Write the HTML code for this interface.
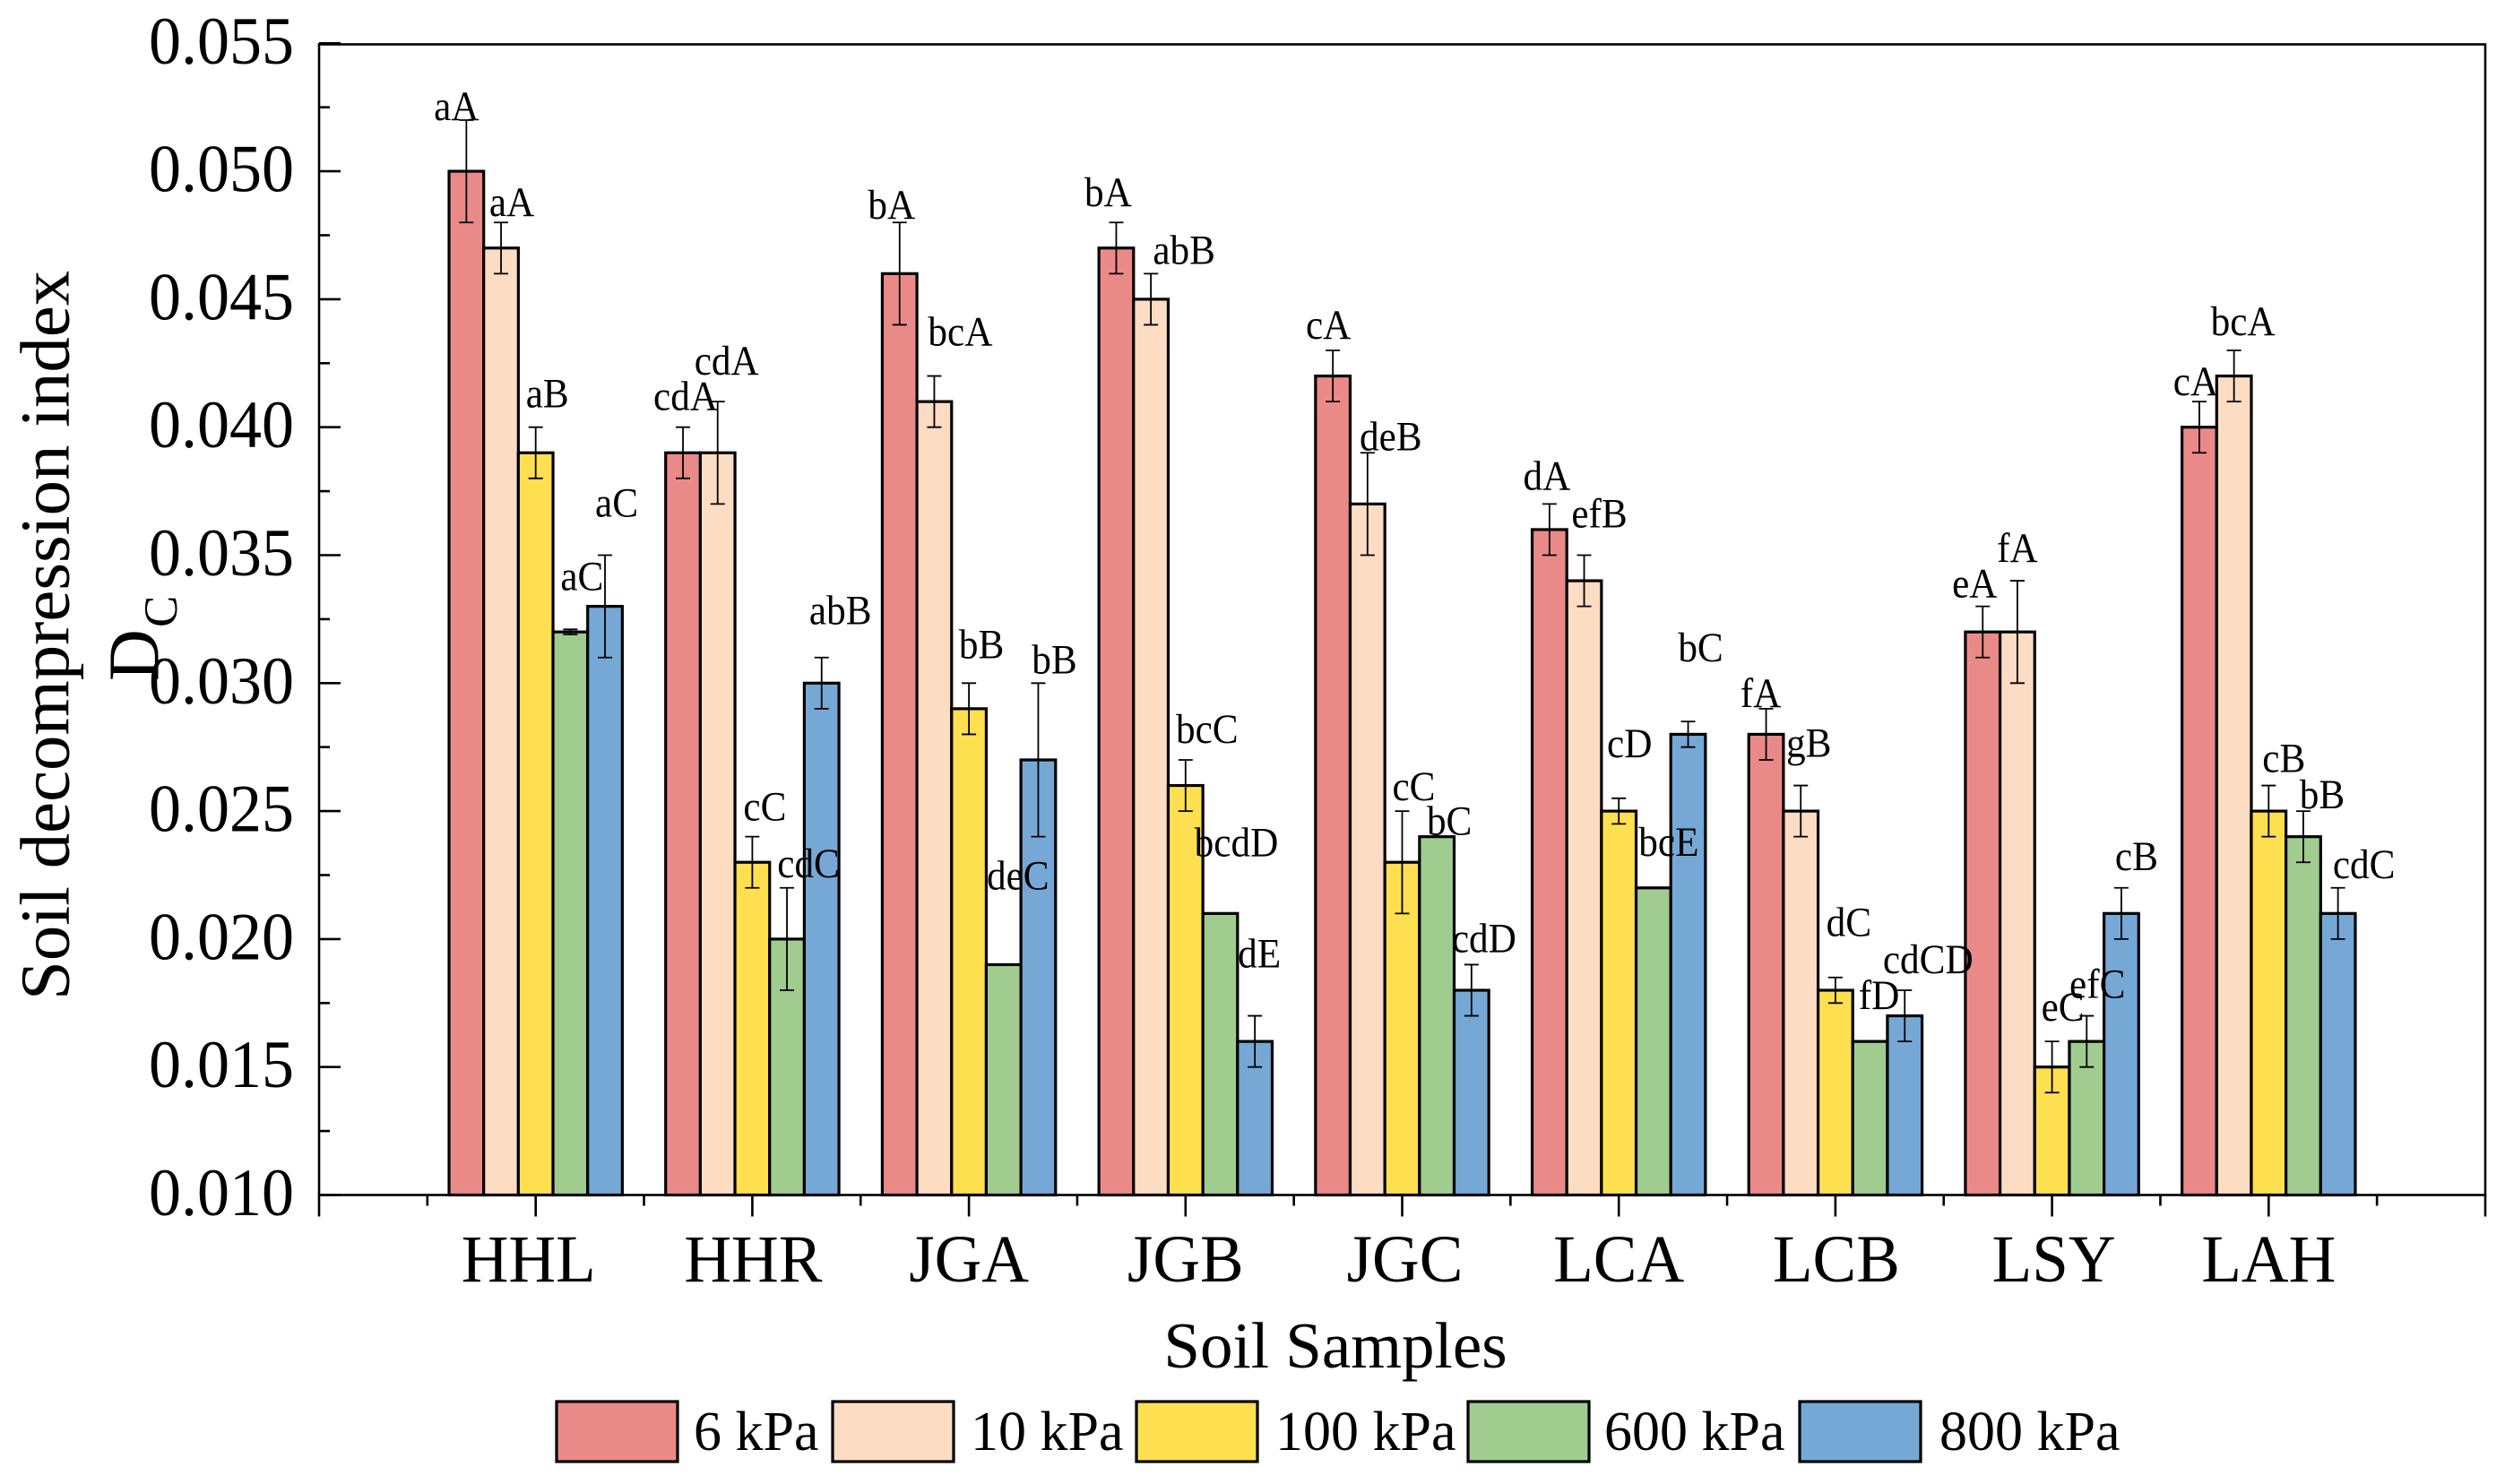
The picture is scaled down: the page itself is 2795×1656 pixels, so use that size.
<!DOCTYPE html>
<html lang="en">
<head>
<meta charset="utf-8">
<title>Soil decompression index by soil sample</title>
<style>
  html, body { margin: 0; padding: 0; background: #fff; }
  svg { display: block; font-family: "Liberation Serif", serif; fill: #000; }
</style>
</head>
<body>
<svg id="chart" width="2795" height="1656" viewBox="0 0 2795 1656" xmlns="http://www.w3.org/2000/svg">
  <rect x="0" y="0" width="2795" height="1656" fill="#fff"/>
  <g id="bars"></g>
  <g id="errors"></g>
  <rect x="356" y="49.5" width="2417" height="1284" fill="none" stroke="#000" stroke-width="2.6"/>
  <g id="ticks"></g>
  <g id="labels"></g>

  <text transform="translate(76.5 1116) rotate(-90)" font-size="78.8">Soil decompression index</text>
  <text transform="translate(176.5 760) rotate(-90)" font-size="80">D</text>
  <text transform="translate(197 700) rotate(-90)" font-size="53">C</text>
  <text x="1490" y="1526" font-size="73" text-anchor="middle">Soil Samples</text>

  <g>
    <g>
      <rect x="621" y="1564" width="135" height="67" fill="#EA8A88" stroke="#000" stroke-width="3.2"/>
      <text x="774" y="1618" font-size="62">6 kPa</text>
    </g>
    <g>
      <rect x="929" y="1564" width="135" height="67" fill="#FDDCC4" stroke="#000" stroke-width="3.2"/>
      <text x="1083" y="1618" font-size="62">10 kPa</text>
    </g>
    <g>
      <rect x="1268" y="1564" width="135" height="67" fill="#FEDF50" stroke="#000" stroke-width="3.2"/>
      <text x="1423" y="1618" font-size="62">100 kPa</text>
    </g>
    <g>
      <rect x="1638" y="1564" width="135" height="67" fill="#A0CC90" stroke="#000" stroke-width="3.2"/>
      <text x="1790" y="1618" font-size="62">600 kPa</text>
    </g>
    <g>
      <rect x="2008" y="1564" width="135" height="67" fill="#76A8D6" stroke="#000" stroke-width="3.2"/>
      <text x="2164" y="1618" font-size="62">800 kPa</text>
    </g>
  </g>
</svg>

<script>
const categories = ['HHL', 'HHR', 'JGA', 'JGB', 'JGC', 'LCA', 'LCB', 'LSY', 'LAH'];
const seriesNames = ['6 kPa', '10 kPa', '100 kPa', '600 kPa', '800 kPa'];
const yTickLabels = ['0.010', '0.015', '0.020', '0.025', '0.030', '0.035', '0.040', '0.045', '0.050', '0.055'];

const values6 = [0.050, 0.039, 0.046, 0.047, 0.042, 0.036, 0.028, 0.032, 0.040];
const values10 = [0.047, 0.039, 0.041, 0.045, 0.037, 0.034, 0.025, 0.032, 0.042];
const values100 = [0.039, 0.023, 0.029, 0.026, 0.023, 0.025, 0.018, 0.015, 0.025];
const values600 = [0.032, 0.020, 0.019, 0.021, 0.024, 0.022, 0.016, 0.016, 0.024];
const values800 = [0.033, 0.030, 0.027, 0.016, 0.018, 0.028, 0.017, 0.021, 0.021];

const errors6 = [0.002, 0.001, 0.002, 0.001, 0.001, 0.001, 0.001, 0.001, 0.001];
const errors10 = [0.001, 0.002, 0.001, 0.001, 0.002, 0.001, 0.001, 0.002, 0.001];
const errors100 = [0.001, 0.001, 0.001, 0.001, 0.002, 0.0005, 0.0005, 0.001, 0.001];
const errors600 = [0.0001, 0.002, 0, 0, 0, 0, 0, 0.001, 0.001];
const errors800 = [0.002, 0.001, 0.003, 0.001, 0.001, 0.0005, 0.001, 0.001, 0.001];

const letters6 = ['aA', 'cdA', 'bA', 'bA', 'cA', 'dA', 'fA', 'eA', 'cA'];
const letters10 = ['aA', 'cdA', 'bcA', 'abB', 'deB', 'efB', 'gB', 'fA', 'bcA'];
const letters100 = ['aB', 'cC', 'bB', 'bcC', 'cC', 'cD', 'dC', 'eC', 'cB'];
const letters600 = ['aC', 'cdC', 'deC', 'bcdD', 'bC', 'bcE', 'fD', 'efC', 'bB'];
const letters800 = ['aC', 'abB', 'bB', 'dE', 'cdD', 'bC', 'cdCD', 'cB', 'cdC'];

const seriesValues = [values6, values10, values100, values600, values800];
const seriesErrors = [errors6, errors10, errors100, errors600, errors800];
const seriesLetters = [letters6, letters10, letters100, letters600, letters800];

function drawChart() {
  const NS = 'http://www.w3.org/2000/svg';
  const barFills = ['#EA8A88', '#FDDCC4', '#FEDF50', '#A0CC90', '#76A8D6'];
  const x0 = 356, xStep = 241.7, barWidth = 38.67;
  const yBase = 1333.5, yPerUnit = 28560, yMin = 0.010;

  function xScale(position) { return x0 + position * xStep; }
  function yScale(value) { return yBase - (value - yMin) * yPerUnit; }
  function slug(text) { return text.toLowerCase().replace(/\s+/g, '-'); }

  function make(tag, parent, attrs) {
    const el = document.createElementNS(NS, tag);
    Object.keys(attrs).forEach(function (k) { el.setAttribute(k, attrs[k]); });
    parent.appendChild(el);
    return el;
  }

  const barLayer = document.getElementById('bars');
  const errLayer = document.getElementById('errors');
  const tickLayer = document.getElementById('ticks');
  const labelLayer = document.getElementById('labels');

  // Hand-placed label offsets: [dx from bar centre, dy from error-bar top].
  const labelNudges = [
    [[-11, 0], [3, -19], [-9, -4], [-9, -18], [-5, -13], [-3, -16], [-6, -2], [-9, -10], [-4, -7]],
    [[12, -7], [10, -30], [29, -34], [37, -11], [26, -3], [17, -31], [9, -32], [0, -21], [10, -17]],
    [[13, -22], [14, -18], [14, -28], [24, -19], [13, -12], [12, -46], [15, -46], [12, -23], [17, -15]],
    [[13, -44], [24, -12], [16, -84], [18, -64], [14, -2], [17, -36], [10, -36], [12, -20], [21, -3]],
    [[13, -43], [21, -37], [18, -11], [5, -54], [14, -14], [14, -67], [26, -19], [17, -20], [29, -11]]
  ];
  const categoryNudges = [-8, 1, 0, 0, 3, 0, 1, 2, 0];

  categories.forEach(function (cat, c) {
    const groupCentre = xScale(c + 1);
    seriesNames.forEach(function (name, s) {
      const value = seriesValues[s][c];
      const err = seriesErrors[s][c];
      const centre = groupCentre + (s - 2) * barWidth;
      const top = yScale(value);

      const bar = make('rect', barLayer, {
        x: centre - barWidth / 2, y: top, width: barWidth, height: yBase - top,
        fill: barFills[s], stroke: '#000', 'stroke-width': 3.2
      });
      
      

      if (err > 0) {
        const errTop = yScale(value + err), errBottom = yScale(value - err);
        const whisker = make('path', errLayer, {
          d: 'M' + (centre - 8) + ' ' + errTop + 'H' + (centre + 8) +
             'M' + centre + ' ' + errTop + 'V' + errBottom +
             'M' + (centre - 8) + ' ' + errBottom + 'H' + (centre + 8),
          fill: 'none', stroke: '#000', 'stroke-width': 1.8
        });
        
        
      }

      const nudge = labelNudges[s][c];
      const label = make('text', labelLayer, {
        transform: 'translate(' + (centre + nudge[0]) + ' ' + (yScale(value + err) + nudge[1]) + ') scale(.92 1)',
        'font-size': 47, 'text-anchor': 'middle'
      });
      label.textContent = seriesLetters[s][c];
      
      
    });

    const catLabel = make('text', tickLayer, {
      transform: 'translate(' + (groupCentre + categoryNudges[c]) + ' 1430) scale(.973 1)',
      'font-size': 75, 'text-anchor': 'middle'
    });
    catLabel.textContent = cat;
    
    
  });

  // X axis ticks: major at each whole position, minor at the half positions.
  for (let i = 0; i <= 20; i++) {
    const len = i % 2 === 0 ? 24 : 12;
    const xTick = make('line', tickLayer, {
      x1: xScale(i / 2), x2: xScale(i / 2), y1: yBase, y2: yBase + len,
      stroke: '#000', 'stroke-width': 2.6
    });
    
    
  }

  // Y axis ticks and labels.
  yTickLabels.forEach(function (text, i) {
    const value = parseFloat(text);
    const y = yScale(value);
    const major = make('line', tickLayer, {
      x1: x0, x2: x0 + 24, y1: y, y2: y, stroke: '#000', 'stroke-width': 2.6
    });
    
    

    const tickLabel = make('text', tickLayer, {
      transform: 'translate(328 ' + (y + 22.5) + ') scale(.96 1)',
      'font-size': 75, 'text-anchor': 'end'
    });
    tickLabel.textContent = text;
    
    

    if (i < yTickLabels.length - 1) {
      const next = parseFloat(yTickLabels[i + 1]);
      const yMid = yScale((value + next) / 2);
      const minor = make('line', tickLayer, {
        x1: x0, x2: x0 + 12, y1: yMid, y2: yMid, stroke: '#000', 'stroke-width': 2.6
      });
      
      
    }
  });
}
drawChart();
</script>
</body>
</html>
